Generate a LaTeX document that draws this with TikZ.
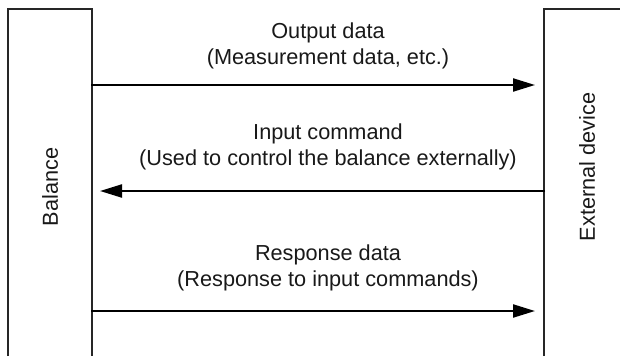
\documentclass[tikz,border=0pt]{standalone}
\usepackage{fontspec}
\setmainfont{Liberation Sans}
\usetikzlibrary{arrows.meta}
\begin{document}
\begin{tikzpicture}[x=1pt,y=-1pt,
 boxline/.style={draw=black!85, line width=1.1pt},
 flow/.style={line width=2.2pt, -{Triangle[length=22pt,width=13pt]}},
 lbl/.style={font=\fontsize{21.7}{26.5}\selectfont, align=center, text=black!90, inner sep=0pt},
 side/.style={font=\fontsize{21.7}{26}\selectfont, rotate=90, text=black!90, inner sep=0pt}]
\useasboundingbox[fill=white] (0,0) rectangle (620,356);
% boxes (open at bottom / right)
\draw[boxline] (8,356) -- (8,9) -- (92,9) -- (92,356);
\draw[boxline] (544,356) -- (544,9) -- (621,9);
\node[side] (balance) at (50,187) {Balance};
\node[side] (ext) at (587,167) {External device};
% connector end points
\coordinate (b1) at (91,85);
\coordinate (e1) at (535,85);
\coordinate (e2) at (545,191);
\coordinate (b2) at (100,191);
\coordinate (b3) at (91,311);
\coordinate (e3) at (535,311);
\draw[flow] (b1) -- (e1);
\draw[flow] (e2) -- (b2);
\draw[flow] (b3) -- (e3);
\node[lbl] (t1) at (328,46) {Output data\\(Measurement data, etc.)};
\node[lbl] (t2) at (328,147) {Input command\\(Used to control the balance externally)};
\node[lbl] (t3) at (328,268) {Response data\\(Response to input commands)};
\end{tikzpicture}
\end{document}
